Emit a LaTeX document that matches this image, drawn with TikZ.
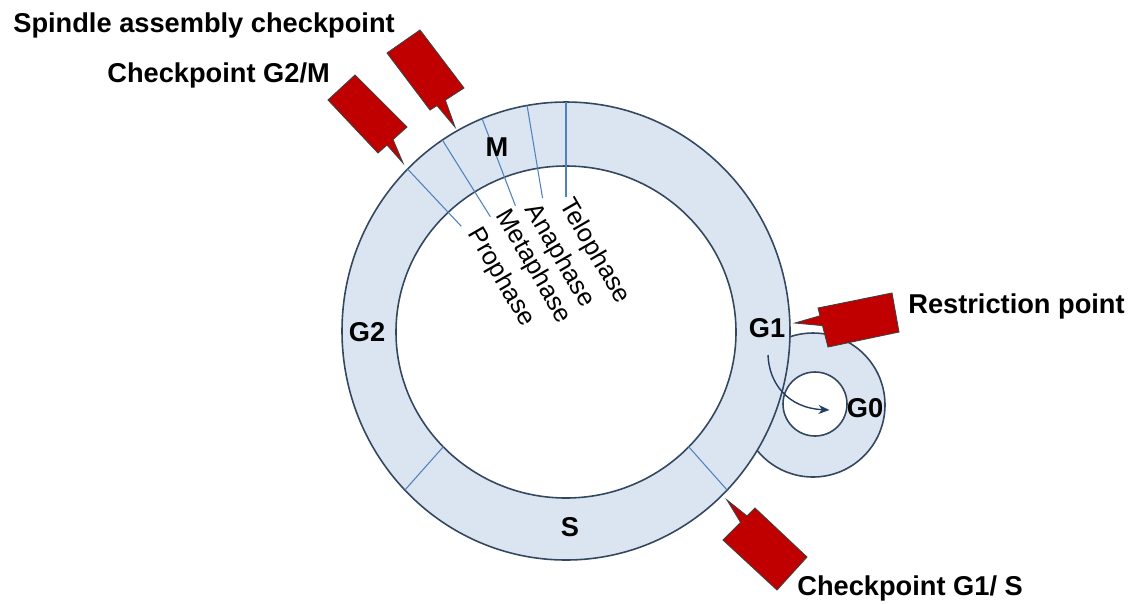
\documentclass[tikz,border=0pt]{standalone}
\usepackage{fontspec}
\setmainfont{Liberation Sans}
\usetikzlibrary{arrows.meta,positioning,calc}

\definecolor{ringfill}{HTML}{DBE5F1}
\definecolor{ringline}{HTML}{33475F}
\definecolor{phaseline}{HTML}{4F81BD}
\definecolor{flagred}{HTML}{C00000}
\definecolor{arrowcol}{HTML}{243F60}

\begin{document}
\begin{tikzpicture}[x=0.02cm, y=0.02cm,
  ring/.style={draw=ringline, line width=0.9pt, fill=ringfill},
  divider/.style={draw=phaseline, line width=0.6pt},
  flag/.style={fill=flagred, draw=black!75, line width=0.5pt, line join=miter},
  stage/.style={font=\fontsize{15.5}{18}\selectfont\bfseries, inner sep=0pt},
  phase/.style={font=\fontsize{14.5}{17}\selectfont, rotate=-60, anchor=west, inner sep=0pt},
  checklabel/.style={font=\fontsize{15.5}{18}\selectfont\bfseries, anchor=base west, inner sep=0pt}]
\useasboundingbox[fill=white] (-566,-272) rectangle (575,331);

% G0 loop, then the cycle ring over it
\path[ring] (247,-74) circle (72);
\path[ring, even odd rule] (0,0) ellipse (224 and 229) (0,-1) ellipse (170 and 166);
\path[draw=ringline, line width=0.9pt, fill=white] (249,-73) circle (32);

% phase borders
\foreach \a/\r in {135/148, 123.5/137, 112/135, 100/135, 90/134}
  \draw[divider] (\a:224 and 229) -- (\a:\r);
\foreach \a in {224,316}
  \draw[divider] (\a:224 and 229) -- (\a:170 and 166);

\node[phase] (pro) at (-92.5,101) {Prophase};
\node[phase] (meta) at (-64.5,119) {Metaphase};
\node[phase] (ana) at (-35.5,125) {Anaphase};
\node[phase] (telo) at (-1,130) {Telophase};

\node[stage] (m) at (-69,184) {M};
\node[stage] (g2) at (-199,-1) {G2};
\node[stage] (g1) at (201,3) {G1};
\node[stage] (s) at (4,-196) {S};
\node[stage] (g0) at (299,-77) {G0};

\draw[arrowcol, line width=0.8pt, -{Stealth[length=0.22cm,width=0.18cm]}]
  ($(g1.south)+(1,-17)$) .. controls ($(g1.south)+(2,-45)$) and ($(g0.west)+(-59,0)$) .. ($(g0.west)+(-17,-2)$);

% checkpoint flags
\draw[flag] (-211,256) -- (-159,204) -- (-173,191.5) -- (-163,168) -- (-179,186)
  -- (-188,178) -- (-238,231) -- cycle;
\draw[flag] (-146,301) -- (-102,243) -- (-120.7,230.9) -- (-111,204) -- (-129,225.4)
  -- (-136,221) -- (-179,278) -- cycle;
\draw[flag] (252,23) -- (326,38) -- (333,-1) -- (262,-16) -- (256.5,5.4) -- (229,8)
  -- (254,15.2) -- cycle;
\draw[flag] (189,-177) -- (241,-226) -- (211,-259) -- (157,-209) -- (174.6,-191.4)
  -- (161,-169) -- (181,-185) -- cycle;

\node[checklabel] (spindle) at (-553,299) {Spindle assembly checkpoint};
\node[checklabel] (g2m) at (-459,249) {Checkpoint G2/M};
\node[checklabel] (restr) at (342,18) {Restriction point};
\node[checklabel] (g1s) at (231,-264) {Checkpoint G1/ S};
\end{tikzpicture}
\end{document}
